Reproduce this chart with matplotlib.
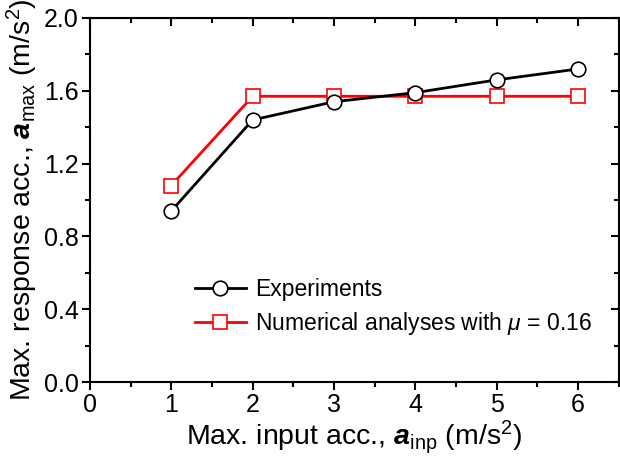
import matplotlib
matplotlib.use("Agg")
import matplotlib.pyplot as plt
from matplotlib.ticker import MultipleLocator

# data
x_inp = [1, 2, 3, 4, 5, 6]
exp_vals = [0.94, 1.44, 1.54, 1.59, 1.66, 1.72]
num_vals = [1.08, 1.57, 1.57, 1.57, 1.57, 1.57]

plt.rcParams["font.family"] = "Liberation Sans"
plt.rcParams["mathtext.fontset"] = "custom"
plt.rcParams["mathtext.rm"] = "Liberation Sans"
plt.rcParams["mathtext.it"] = "Liberation Sans:italic"
plt.rcParams["mathtext.bf"] = "Liberation Sans:bold:italic"

fig = plt.figure(figsize=(6.2, 4.61), dpi=100)
ax = fig.add_axes([0.145, 0.171, 0.853, 0.79])

ax.plot(x_inp, exp_vals, color="black", lw=2, marker="o", ms=10.5,
        mfc="white", mec="black", mew=1.2, label="Experiments", zorder=3)
ax.plot(x_inp, num_vals, color="red", lw=2, marker="s", ms=9.5,
        mfc="white", mec="red", mew=1.2,
        label=r"Numerical analyses with $\mu$ = 0.16", zorder=2)

ax.set_xlim(0, 6.5)
ax.set_ylim(0, 2.0)
ax.xaxis.set_major_locator(MultipleLocator(1))
ax.xaxis.set_minor_locator(MultipleLocator(0.5))
ax.yaxis.set_major_locator(MultipleLocator(0.4))
ax.yaxis.set_minor_locator(MultipleLocator(0.2))
ax.yaxis.set_major_formatter(matplotlib.ticker.FormatStrFormatter("%.1f"))

ax.tick_params(which="major", direction="out", length=6, width=1.5, labelsize=18, pad=2)
ax.tick_params(which="minor", direction="out", length=3.5, width=1.5)
for s in ax.spines.values():
    s.set_linewidth(1.5)

# inward ticks on top and right, no labels
top = ax.secondary_xaxis("top")
top.xaxis.set_major_locator(MultipleLocator(1))
top.xaxis.set_minor_locator(MultipleLocator(0.5))
top.tick_params(which="major", direction="in", length=6, width=1.5, labeltop=False)
top.tick_params(which="minor", direction="in", length=3.5, width=1.5)
right = ax.secondary_yaxis("right")
right.yaxis.set_major_locator(MultipleLocator(0.4))
right.yaxis.set_minor_locator(MultipleLocator(0.2))
right.tick_params(which="major", direction="in", length=6, width=1.5, labelright=False)
right.tick_params(which="minor", direction="in", length=3.5, width=1.5)

ax.set_xlabel(r"Max. input acc., $\mathbf{a}_{\mathrm{inp}}$ (m/s$^{2}$)", fontsize=20.5, labelpad=1)
ax.set_ylabel(r"Max. response acc., $\mathbf{a}_{\mathrm{max}}$ (m/s$^{2}$)", fontsize=20.5, labelpad=3)

ax.legend(loc="lower left", bbox_to_anchor=(0.16, 0.068), frameon=False,
          fontsize=16.5, handlelength=2.2, handletextpad=0.4, labelspacing=0.4)

fig.savefig("out.png", dpi=100)
